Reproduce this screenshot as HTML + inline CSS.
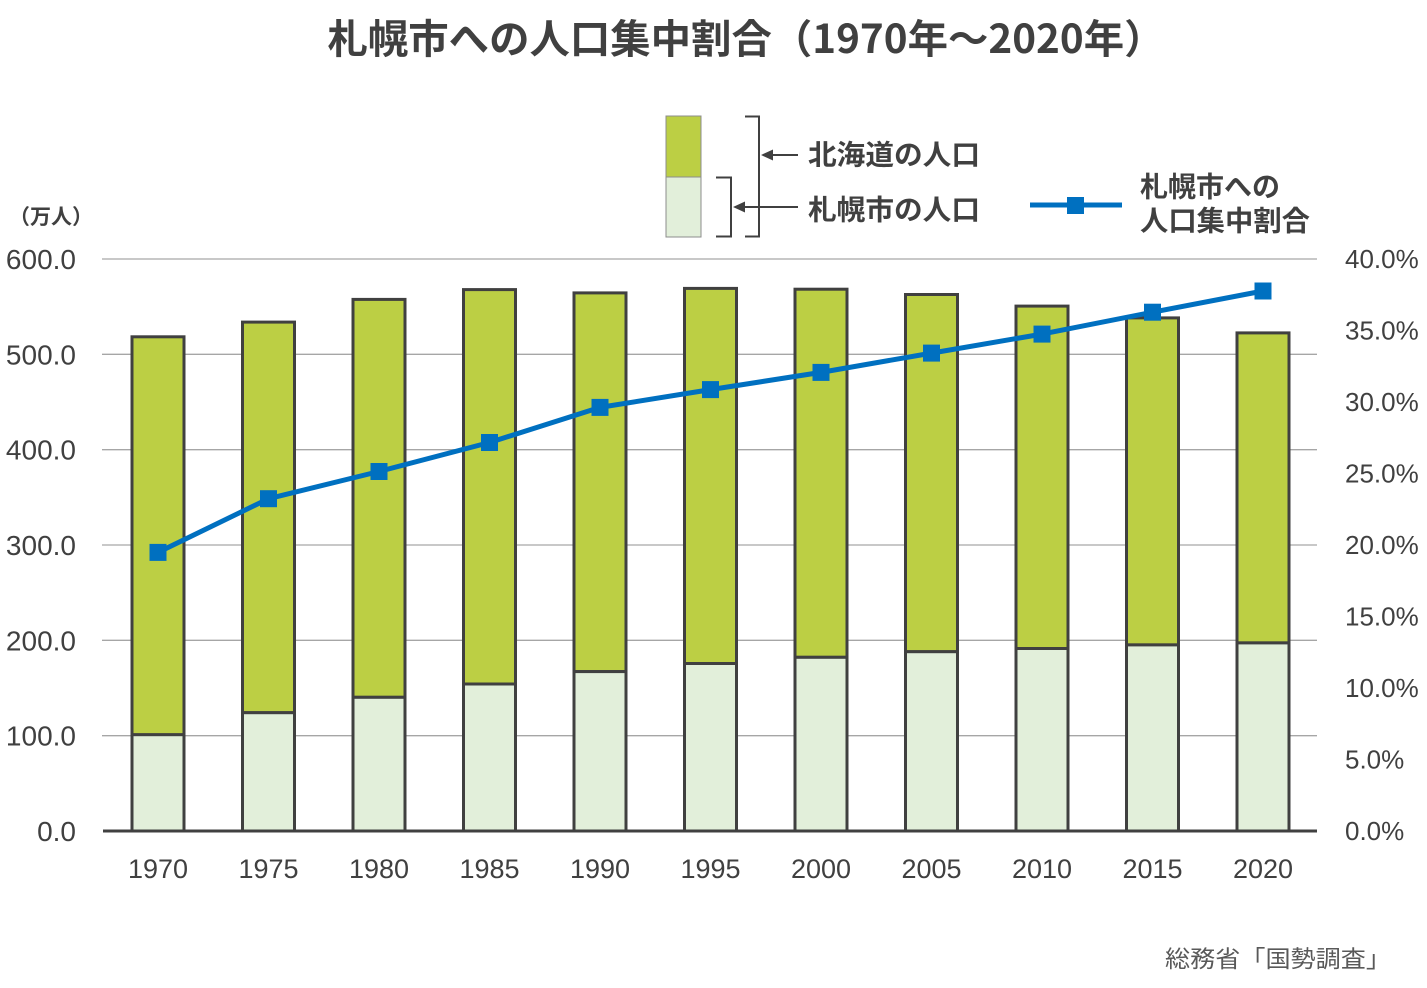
<!DOCTYPE html>
<html><head><meta charset="utf-8"><style>
html,body{margin:0;padding:0;background:#fff;}
svg{display:block;}
text{font-family:"Liberation Sans","Noto Sans CJK JP",sans-serif;fill:#404040;}
.cj{font-family:"Noto Sans CJK JP","Liberation Sans",sans-serif;}
</style></head><body>
<svg width="1427" height="988" viewBox="0 0 1427 988" xmlns="http://www.w3.org/2000/svg">
<rect width="1427" height="988" fill="#fff"/>
<!-- title -->
<text x="746" y="36" text-anchor="middle" dominant-baseline="central" font-size="40" font-weight="bold" textLength="837" lengthAdjust="spacingAndGlyphs" class="cj">札幌市への人口集中割合（1970年～2020年）</text>
<!-- unit -->
<text x="9" y="216" dominant-baseline="central" font-size="21" font-weight="bold" class="cj">（万人）</text>
<!-- gridlines -->
<g stroke="#a6a6a6" stroke-width="1.3">
<line x1="102" x2="1317" y1="259" y2="259"/>
<line x1="102" x2="1317" y1="354.3" y2="354.3"/>
<line x1="102" x2="1317" y1="449.7" y2="449.7"/>
<line x1="102" x2="1317" y1="545" y2="545"/>
<line x1="102" x2="1317" y1="640.3" y2="640.3"/>
<line x1="102" x2="1317" y1="735.7" y2="735.7"/>
</g>
<!-- left labels -->
<g font-size="28" text-anchor="end">
<text x="76" y="269">600.0</text>
<text x="76" y="364.3">500.0</text>
<text x="76" y="459.7">400.0</text>
<text x="76" y="555">300.0</text>
<text x="76" y="650.3">200.0</text>
<text x="76" y="745.7">100.0</text>
<text x="76" y="841">0.0</text>
</g>
<!-- right labels -->
<g font-size="26">
<text x="1345" y="268">40.0%</text>
<text x="1345" y="339.5">35.0%</text>
<text x="1345" y="411">30.0%</text>
<text x="1345" y="482.5">25.0%</text>
<text x="1345" y="554">20.0%</text>
<text x="1345" y="625.5">15.0%</text>
<text x="1345" y="697">10.0%</text>
<text x="1345" y="768.5">5.0%</text>
<text x="1345" y="840">0.0%</text>
</g>
<!-- bars -->
<g stroke="#404040" stroke-width="3">
<rect x="132" y="336.8" width="52" height="398" fill="#bccf44"/>
<rect x="132" y="734.7" width="52" height="96.3" fill="#e2efda"/>
<rect x="242.5" y="322.1" width="52" height="390.6" fill="#bccf44"/>
<rect x="242.5" y="712.7" width="52" height="118.3" fill="#e2efda"/>
<rect x="353" y="299.4" width="52" height="397.9" fill="#bccf44"/>
<rect x="353" y="697.3" width="52" height="133.7" fill="#e2efda"/>
<rect x="463.5" y="289.6" width="52" height="394.4" fill="#bccf44"/>
<rect x="463.5" y="684" width="52" height="147" fill="#e2efda"/>
<rect x="574" y="292.9" width="52" height="378.7" fill="#bccf44"/>
<rect x="574" y="671.6" width="52" height="159.4" fill="#e2efda"/>
<rect x="684.5" y="288.4" width="52" height="375.1" fill="#bccf44"/>
<rect x="684.5" y="663.5" width="52" height="167.5" fill="#e2efda"/>
<rect x="795" y="289.2" width="52" height="368.1" fill="#bccf44"/>
<rect x="795" y="657.3" width="52" height="173.7" fill="#e2efda"/>
<rect x="905.5" y="294.5" width="52" height="357.2" fill="#bccf44"/>
<rect x="905.5" y="651.7" width="52" height="179.3" fill="#e2efda"/>
<rect x="1016" y="306.1" width="52" height="342.4" fill="#bccf44"/>
<rect x="1016" y="648.5" width="52" height="182.5" fill="#e2efda"/>
<rect x="1126.5" y="317.9" width="52" height="327" fill="#bccf44"/>
<rect x="1126.5" y="644.9" width="52" height="186.1" fill="#e2efda"/>
<rect x="1237" y="332.9" width="52" height="310" fill="#bccf44"/>
<rect x="1237" y="642.9" width="52" height="188.1" fill="#e2efda"/>
</g>
<!-- baseline -->
<line x1="103" x2="1317" y1="831" y2="831" stroke="#404040" stroke-width="3"/>
<!-- x labels -->
<g font-size="27" text-anchor="middle">
<text x="158" y="878">1970</text>
<text x="268.5" y="878">1975</text>
<text x="379" y="878">1980</text>
<text x="489.5" y="878">1985</text>
<text x="600" y="878">1990</text>
<text x="710.5" y="878">1995</text>
<text x="821" y="878">2000</text>
<text x="931.5" y="878">2005</text>
<text x="1042" y="878">2010</text>
<text x="1152.5" y="878">2015</text>
<text x="1263" y="878">2020</text>
</g>
<!-- line -->
<polyline fill="none" stroke="#0070c0" stroke-width="5" stroke-linejoin="round" points="158,552.4 268.5,498.7 379,471.5 489.5,442.5 600,407.4 710.5,389.6 821,372.4 931.5,353.1 1042,334.1 1152.5,312.2 1263,291"/>
<g fill="#0070c0">
<rect x="149.5" y="543.9" width="17" height="17"/>
<rect x="260" y="490.2" width="17" height="17"/>
<rect x="370.5" y="463" width="17" height="17"/>
<rect x="481" y="434" width="17" height="17"/>
<rect x="591.5" y="398.9" width="17" height="17"/>
<rect x="702" y="381.1" width="17" height="17"/>
<rect x="812.5" y="363.9" width="17" height="17"/>
<rect x="923" y="344.6" width="17" height="17"/>
<rect x="1033.5" y="325.6" width="17" height="17"/>
<rect x="1144" y="303.7" width="17" height="17"/>
<rect x="1254.5" y="282.5" width="17" height="17"/>
</g>
<!-- legend bar -->
<rect x="666" y="116" width="35" height="61" fill="#bccf44" stroke="#8c8c8c" stroke-width="1"/>
<rect x="666" y="177" width="35" height="60" fill="#e2efda" stroke="#8c8c8c" stroke-width="1"/>
<g stroke="#404040" stroke-width="2" fill="none">
<polyline points="745,116.5 759,116.5 759,236.5 745,236.5"/>
<polyline points="716,177.5 731,177.5 731,236.5 716,236.5"/>
<line x1="770" y1="155" x2="798" y2="155"/>
<line x1="743" y1="207" x2="798" y2="207"/>
</g>
<g fill="#404040">
<polygon points="761,155 773,149.5 773,160.5"/>
<polygon points="733,207 745,201.5 745,212.5"/>
</g>
<g font-size="28" font-weight="bold" dominant-baseline="central" class="cj">
<text x="808" y="155" textLength="172" lengthAdjust="spacingAndGlyphs">北海道の人口</text>
<text x="808" y="210" textLength="172" lengthAdjust="spacingAndGlyphs">札幌市の人口</text>
<text x="1140" y="187">札幌市への</text>
<text x="1140" y="221" textLength="170" lengthAdjust="spacingAndGlyphs">人口集中割合</text>
</g>
<line x1="1030" x2="1122" y1="205" y2="205" stroke="#0070c0" stroke-width="5"/>
<rect x="1067" y="197" width="17" height="17" fill="#0070c0"/>
<!-- source -->
<text x="1165" y="957" font-size="23.5" dominant-baseline="central" class="cj" style="fill:#595959" textLength="226" lengthAdjust="spacingAndGlyphs">総務省「国勢調査」</text>
</svg>
</body></html>
